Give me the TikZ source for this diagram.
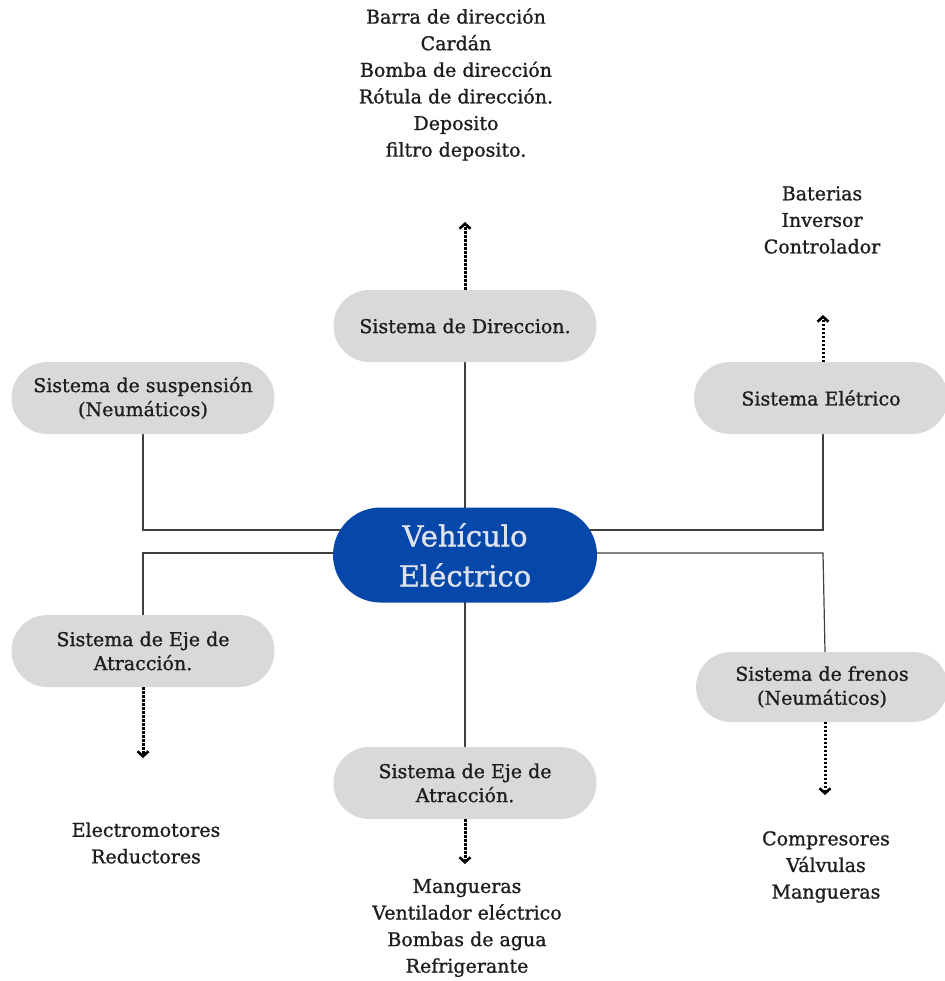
\documentclass[tikz,border=0pt]{standalone}
\usepackage{fontspec}
\setmainfont{DejaVu Serif}[FakeBold=1.1]
\usetikzlibrary{shapes.misc,arrows.meta,calc,backgrounds}
\definecolor{pillgray}{RGB}{217,217,217}
\definecolor{vblue}{RGB}{6,72,170}
\definecolor{vtext}{RGB}{222,226,236}
\definecolor{ink}{RGB}{30,30,30}
\tikzset{
  pill/.style={rounded rectangle, fill=pillgray, minimum width=263pt, minimum height=72pt,
    align=center, text=ink, font=\fontsize{19}{24}\selectfont, inner sep=0pt},
  central/.style={rounded rectangle, fill=vblue, minimum width=264pt, minimum height=95pt,
    align=center, text=vtext, font=\fontsize{29}{40}\selectfont, inner sep=0pt},
  listtext/.style={align=center, text=ink, font=\fontsize{19}{26.6}\selectfont, inner sep=0pt},
  link/.style={draw=ink!85, line width=1.2pt},
  dotarrow/.style={draw=black, line width=3pt, dash pattern=on 2.4pt off 1.6pt,
    -{Straight Barb[length=5pt,width=11pt,line width=2.6pt]}}
}
\begin{document}
\begin{tikzpicture}[x=1pt,y=-1pt]
\useasboundingbox (0,0) rectangle (944,981);

\node[central] (veh) at (465,555) {Vehículo\\Eléctrico};
\node[pill] (dir) at (465,326) {Sistema de Direccion.};
\node[pill] (susp) at (143,398) {Sistema de suspensión\\(Neumáticos)};
\node[pill, minimum width=254pt] (elec) at (821,398) {Sistema Elétrico};
\node[pill] (ejeL) at (143,651) {Sistema de Eje de\\Atracción.};
\node[pill, minimum width=252pt, minimum height=70pt] (fren) at (822,687) {Sistema de frenos\\(Neumáticos)};
\node[pill] (ejeB) at (465,783) {Sistema de Eje de\\Atracción.};

\node[listtext] (ldir) at (456,84.5) {Barra de dirección\\Cardán\\Bomba de dirección\\Rótula de dirección.\\Deposito\\filtro deposito.};
\node[listtext] (lelec) at (822,220) {Baterias\\Inversor\\Controlador};
\node[listtext] (lejeL) at (146,843) {Electromotores\\Reductores};
\node[listtext] (lejeB) at (467,928) {Mangueras\\Ventilador eléctrico\\Bombas de agua\\Refrigerante};
\node[listtext] (lfren) at (826,867) {Compresores\\Válvulas\\Mangueras};

\coordinate (tdir) at (465,222);
\coordinate (telec) at (823,315);
\coordinate (tejeL) at (143,758);
\coordinate (tfren) at (825,795);
\coordinate (tejeB) at (465,864);

\begin{scope}[on background layer]
\draw[link] (dir.south) -- (veh.center);
\draw[link] (ejeB.north) -- (veh.center);
\draw[link] (susp.south) |- ($(veh.center)+(0,-25)$);
\draw[link] (823,434) |- ($(veh.center)+(0,-25)$);
\draw[link] (ejeL.north) |- ($(veh.center)+(0,-2)$);
\draw[link] (825,652) -- (823,553) -- ($(veh.center)+(0,-2)$);
\end{scope}

\draw[dotarrow] (dir.north) -- (tdir);
\draw[dotarrow] (823,362) -- (telec);
\draw[dotarrow] (ejeL.south) -- (tejeL);
\draw[dotarrow] (825,722) -- (tfren);
\draw[dotarrow] (ejeB.south) -- (tejeB);
\end{tikzpicture}
\end{document}
